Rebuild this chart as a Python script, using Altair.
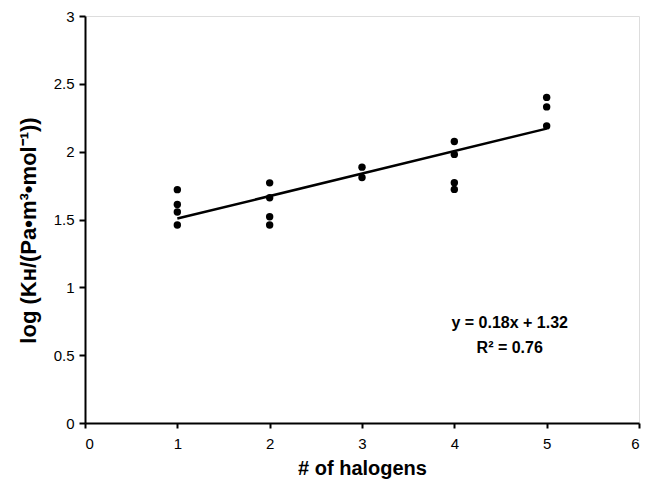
import altair as alt
import pandas as pd

halogens = [1, 1, 1, 1, 2, 2, 2, 2, 3, 3, 4, 4, 4, 4, 5, 5, 5]
log_kh = [1.72, 1.61, 1.555, 1.46,
          1.77, 1.66, 1.52, 1.46,
          1.886, 1.81,
          2.075, 1.98, 1.771, 1.722,
          2.40, 2.33, 2.19]

eq_lines = ["y = 0.18x + 1.32", "R² = 0.76"]
eq_x = [4.6, 4.6]
eq_y = [0.735, 0.55]

df = pd.DataFrame({"x": halogens, "y": log_kh})
ann = pd.DataFrame({"x": eq_x, "y": eq_y, "t": eq_lines})

FONT = "Liberation Sans"

xs = alt.Scale(domain=[0, 6], nice=False, zero=True)
ys = alt.Scale(domain=[0, 3], nice=False, zero=True)

xaxis = alt.Axis(values=[0, 1, 2, 3, 4, 5, 6], format="~g", grid=False, tickSize=5, tickWidth=2,
                 domainWidth=2, domainColor="black", tickColor="black",
                 labelFont=FONT, labelFontSize=15, labelColor="black", labelPadding=8,
                 title="# of halogens", titleFont=FONT, titleFontSize=20,
                 titleFontWeight="bold", titleColor="black", titlePadding=7)
yaxis = alt.Axis(values=[0, 0.5, 1, 1.5, 2, 2.5, 3], format="~g", grid=False, tickSize=6, tickWidth=2,
                 domainWidth=2, domainColor="black", tickColor="black",
                 labelFont=FONT, labelFontSize=15, labelColor="black", labelPadding=5,
                 title="log (Kʜ/(Pa•m³•mol⁻¹))", titleFont=FONT, titleFontSize=22,
                 titleFontWeight="bold", titleColor="black",
                 titleX=-50, titleY=214, titleAngle=270, titleAlign="center",
                 titleBaseline="alphabetic")

base = alt.Chart(df)

pts = base.mark_circle(size=55, color="black", opacity=1).encode(
    x=alt.X("x:Q", scale=xs, axis=xaxis),
    y=alt.Y("y:Q", scale=ys, axis=yaxis),
)

fit = base.transform_regression("x", "y", extent=[1, 5]).mark_line(
    color="black", strokeWidth=2.5
).encode(x=alt.X("x:Q", scale=xs), y=alt.Y("y:Q", scale=ys))

txt = alt.Chart(ann).mark_text(font=FONT, fontSize=16, fontWeight="bold",
                               color="black", align="center", baseline="middle").encode(
    x=alt.X("x:Q", scale=xs), y=alt.Y("y:Q", scale=ys), text="t:N")

chart = (fit + pts + txt).properties(
    width=554, height=407,
    autosize=alt.AutoSizeParams(type="none"),
    padding={"left": 77, "top": 8, "right": 5, "bottom": 56},
).configure_view(stroke=None).configure(background="white")

chart.save("out.html", embed_options={"renderer": "svg", "actions": False})
